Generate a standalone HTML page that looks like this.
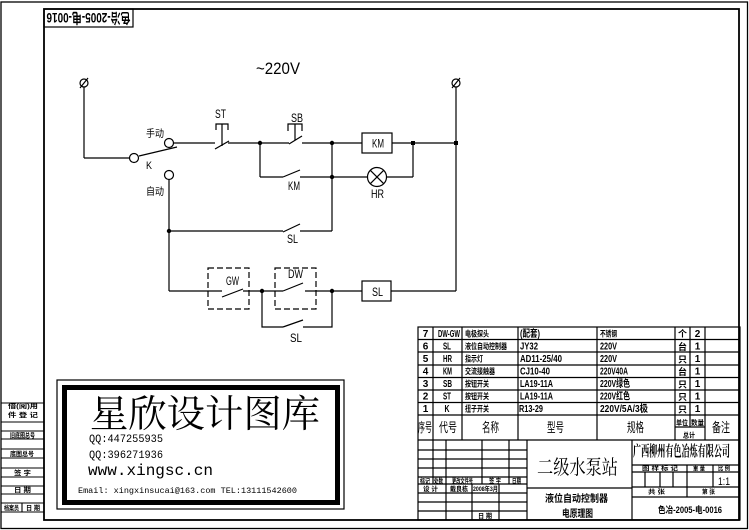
<!DOCTYPE html>
<html><head><meta charset="utf-8">
<style>
html,body{margin:0;padding:0;background:#fff;}
svg{display:block;}
text{font-family:"Liberation Sans","Noto Sans CJK SC",sans-serif;fill:#000;}
.s{font-family:"Noto Serif CJK SC","Liberation Serif",serif;}
.m{font-family:"Liberation Mono","Noto Sans CJK SC",monospace;}
.b{font-weight:bold;}
</style></head><body>
<svg width="749" height="530" viewBox="0 0 749 530" xmlns="http://www.w3.org/2000/svg">
<rect width="749" height="530" fill="#fff"/>
<!-- frames -->
<g fill="none" stroke="#000">
<rect x="1" y="2" width="746.5" height="526.5" stroke-width="1.3"/>
<rect x="44" y="9" width="695" height="511" stroke-width="1.8"/>
<rect x="44" y="9" width="89" height="18" stroke-width="1.2"/>
</g>
<text class="b" x="88.5" y="18" font-size="14" text-anchor="middle" dominant-baseline="central" textLength="84" lengthAdjust="spacingAndGlyphs" transform="rotate(180 88.5 18)">色冶-2005-电-0016</text>

<!-- left strip -->
<g stroke="#000" stroke-width="1.1">
<line x1="1" y1="403" x2="44" y2="403"/>
<line x1="1" y1="422" x2="44" y2="422"/>
<line x1="1" y1="431" x2="44" y2="431"/>
<line x1="1" y1="439" x2="44" y2="439"/>
<line x1="1" y1="449" x2="44" y2="449"/>
<line x1="1" y1="458" x2="44" y2="458"/>
<line x1="1" y1="468" x2="44" y2="468"/>
<line x1="1" y1="477" x2="44" y2="477"/>
<line x1="1" y1="486" x2="44" y2="486"/>
<line x1="1" y1="494" x2="44" y2="494"/>
<line x1="1" y1="503" x2="44" y2="503"/>
<line x1="1" y1="512" x2="44" y2="512"/>
<line x1="22" y1="503" x2="22" y2="512"/>
</g>
<g font-size="6.5" class="b">
<text x="8" y="408" textLength="30" lengthAdjust="spacingAndGlyphs">借(阅)用</text>
<text x="8" y="417" textLength="30" lengthAdjust="spacingAndGlyphs">件 登 记</text>
<text x="10" y="437.5" textLength="25" lengthAdjust="spacingAndGlyphs">旧底图总号</text>
<text x="10" y="456" textLength="24" lengthAdjust="spacingAndGlyphs">底图总号</text>
<text x="14" y="475" textLength="17" lengthAdjust="spacingAndGlyphs">签 字</text>
<text x="14" y="492" textLength="17" lengthAdjust="spacingAndGlyphs">日 期</text>
<text x="4" y="510" textLength="15" lengthAdjust="spacingAndGlyphs">档案员</text>
<text x="26" y="510" textLength="14" lengthAdjust="spacingAndGlyphs">日 期</text>
</g>

<!-- circuit -->
<g fill="none" stroke="#000" stroke-width="1.2">
<!-- terminals -->
<circle cx="84" cy="83" r="4"/><line x1="80" y1="88" x2="88" y2="78"/>
<circle cx="456" cy="83" r="4"/><line x1="452" y1="88" x2="460" y2="78"/>
<line x1="84" y1="87" x2="84" y2="158"/>
<line x1="84" y1="158" x2="129.5" y2="158"/>
<circle cx="134" cy="158" r="4.5"/>
<line x1="139" y1="156" x2="177" y2="147"/>
<circle cx="169" cy="143" r="4.5"/>
<circle cx="169" cy="175" r="4.5"/>
<!-- top branch -->
<line x1="173.5" y1="143" x2="215" y2="143"/>
<line x1="215" y1="149" x2="229" y2="141"/>
<line x1="228" y1="143" x2="289" y2="143"/>
<polyline points="216,130 216,124 228,124 228,130"/>
<line x1="222" y1="124" x2="222" y2="146"/>
<line x1="289" y1="144" x2="302" y2="136"/>
<polyline points="288,131 288,124 302,124 302,131"/>
<line x1="295" y1="124" x2="295" y2="140"/>
<line x1="302" y1="143" x2="362" y2="143"/>
<rect x="362" y="133" width="30" height="20"/>
<line x1="392" y1="143" x2="456" y2="143"/>
<!-- KM hold -->
<line x1="260" y1="143" x2="260" y2="177"/>
<line x1="260" y1="177" x2="283" y2="177"/>
<line x1="283" y1="177" x2="300" y2="170"/>
<line x1="300" y1="177" x2="367.5" y2="177"/>
<circle cx="377" cy="177" r="9.5"/>
<line x1="370.3" y1="170.3" x2="383.7" y2="183.7"/>
<line x1="383.7" y1="170.3" x2="370.3" y2="183.7"/>
<line x1="386.5" y1="177" x2="413" y2="177"/>
<line x1="413" y1="143" x2="413" y2="177"/>
<line x1="332" y1="143" x2="332" y2="231"/>
<!-- SL upper -->
<line x1="169" y1="179.5" x2="169" y2="291"/>
<line x1="169" y1="231" x2="283" y2="231"/>
<line x1="283" y1="232" x2="300" y2="224"/>
<line x1="300" y1="231" x2="332" y2="231"/>
<!-- right rail -->
<line x1="456" y1="87" x2="456" y2="291"/>
<!-- bottom branch -->
<line x1="169" y1="291" x2="222" y2="291"/>
<line x1="222" y1="297" x2="243" y2="289"/>
<line x1="243" y1="291" x2="283" y2="291"/>
<line x1="283" y1="291" x2="303" y2="283"/>
<line x1="305" y1="291" x2="362" y2="291"/>
<rect x="362" y="281" width="29" height="20"/>
<line x1="391" y1="291" x2="456" y2="291"/>
<polyline points="262,291 262,327 283,327"/>
<line x1="283" y1="327" x2="303" y2="320"/>
<polyline points="303,327 332,327 332,291"/>
<rect x="208" y="268" width="41" height="41" stroke-dasharray="6,3"/>
<rect x="275" y="268" width="41" height="41" stroke-dasharray="6,3"/>
</g>
<g fill="#000">
<circle cx="260" cy="143" r="2.2"/>
<circle cx="332" cy="143" r="2.2"/>
<circle cx="332" cy="177" r="2.2"/>
<rect x="411" y="141" width="4" height="4"/>
<rect x="454" y="141" width="4" height="4"/>
<circle cx="169" cy="231" r="2.2"/>
<circle cx="262" cy="291" r="2.2"/>
<circle cx="332" cy="291" r="2.2"/>
</g>
<!-- circuit labels -->
<g font-size="12">
<text x="256" y="74" font-size="17" textLength="44" lengthAdjust="spacingAndGlyphs">~220V</text>
<text x="215" y="118" textLength="11" lengthAdjust="spacingAndGlyphs">ST</text>
<text x="291" y="122" textLength="12" lengthAdjust="spacingAndGlyphs">SB</text>
<text x="146" y="137" font-size="10" textLength="18" lengthAdjust="spacingAndGlyphs">手动</text>
<text x="146" y="169" font-size="11" textLength="6" lengthAdjust="spacingAndGlyphs">K</text>
<text x="146" y="195" font-size="10" textLength="18" lengthAdjust="spacingAndGlyphs">自动</text>
<text x="288" y="190" textLength="12" lengthAdjust="spacingAndGlyphs">KM</text>
<text x="287" y="243" textLength="11" lengthAdjust="spacingAndGlyphs">SL</text>
<text x="372" y="147.5" textLength="12" lengthAdjust="spacingAndGlyphs">KM</text>
<text x="371" y="198" textLength="13" lengthAdjust="spacingAndGlyphs">HR</text>
<text x="226" y="285" textLength="13" lengthAdjust="spacingAndGlyphs">GW</text>
<text x="288" y="278" textLength="15" lengthAdjust="spacingAndGlyphs">DW</text>
<text x="372" y="296" textLength="11" lengthAdjust="spacingAndGlyphs">SL</text>
<text x="290" y="342" textLength="12" lengthAdjust="spacingAndGlyphs">SL</text>
</g>

<!-- parts table -->
<g fill="none" stroke="#000" stroke-width="1.2">
<rect x="418" y="327" width="322" height="193"/>
<line x1="418" y1="339.5" x2="740" y2="339.5"/>
<line x1="418" y1="352" x2="740" y2="352"/>
<line x1="418" y1="365" x2="740" y2="365"/>
<line x1="418" y1="377.5" x2="740" y2="377.5"/>
<line x1="418" y1="390" x2="740" y2="390"/>
<line x1="418" y1="402.5" x2="740" y2="402.5"/>
<line x1="418" y1="415" x2="740" y2="415"/>
<line x1="418" y1="440" x2="740" y2="440"/>
<line x1="433" y1="327" x2="433" y2="440"/>
<line x1="462" y1="327" x2="462" y2="440"/>
<line x1="518" y1="327" x2="518" y2="440"/>
<line x1="597" y1="327" x2="597" y2="440"/>
<line x1="675" y1="327" x2="675" y2="440"/>
<line x1="690" y1="327" x2="690" y2="427"/>
<line x1="705" y1="327" x2="705" y2="440"/>
<line x1="675" y1="427" x2="705" y2="427"/>
<!-- title block left grid -->
<line x1="418" y1="450" x2="527" y2="450"/>
<line x1="418" y1="459" x2="527" y2="459"/>
<line x1="418" y1="468" x2="527" y2="468"/>
<line x1="418" y1="477" x2="527" y2="477"/>
<line x1="418" y1="484" x2="527" y2="484"/>
<line x1="418" y1="493" x2="527" y2="493"/>
<line x1="418" y1="502" x2="527" y2="502"/>
<line x1="418" y1="511" x2="527" y2="511"/>
<line x1="433" y1="440" x2="433" y2="484"/>
<line x1="446" y1="440" x2="446" y2="520"/>
<line x1="482" y1="440" x2="482" y2="484"/>
<line x1="509" y1="440" x2="509" y2="484"/>
<line x1="472" y1="484" x2="472" y2="520"/>
<line x1="499" y1="484" x2="499" y2="520"/>
<line x1="527" y1="440" x2="527" y2="520"/>
<line x1="527" y1="488" x2="632" y2="488"/>
<line x1="632" y1="440" x2="632" y2="520"/>
<!-- right part -->
<line x1="632" y1="465" x2="740" y2="465"/>
<line x1="632" y1="472" x2="740" y2="472"/>
<line x1="632" y1="487" x2="740" y2="487"/>
<line x1="632" y1="497" x2="740" y2="497"/>
<line x1="645" y1="472" x2="645" y2="487"/>
<line x1="660" y1="472" x2="660" y2="487"/>
<line x1="673" y1="472" x2="673" y2="487"/>
<line x1="687" y1="465" x2="687" y2="497"/>
<line x1="713" y1="465" x2="713" y2="487"/>
</g>

<!-- table text -->
<g class="b" font-size="10">
<text x="425.5" y="337" text-anchor="middle">7</text>
<text x="438" y="337" textLength="22" lengthAdjust="spacingAndGlyphs">DW-GW</text>
<text x="465" y="336.5" font-size="8" textLength="24" lengthAdjust="spacingAndGlyphs">电极探头</text>
<text x="520" y="337" textLength="20" lengthAdjust="spacingAndGlyphs">(配套)</text>
<text x="600" y="336.5" font-size="8" textLength="17" lengthAdjust="spacingAndGlyphs">不锈钢</text>
<text x="682.5" y="337" font-size="9" text-anchor="middle">个</text>
<text x="697.5" y="337" text-anchor="middle">2</text>

<text x="425.5" y="349.5" text-anchor="middle">6</text>
<text x="443" y="349.5" textLength="8" lengthAdjust="spacingAndGlyphs">SL</text>
<text x="465" y="349" font-size="8" textLength="42" lengthAdjust="spacingAndGlyphs">液位自动控制器</text>
<text x="520" y="349.5" textLength="18" lengthAdjust="spacingAndGlyphs">JY32</text>
<text x="600" y="349.5" textLength="17" lengthAdjust="spacingAndGlyphs">220V</text>
<text x="682.5" y="350" font-size="9" text-anchor="middle">台</text>
<text x="697.5" y="349.5" text-anchor="middle">1</text>

<text x="425.5" y="362" text-anchor="middle">5</text>
<text x="443" y="362" textLength="9" lengthAdjust="spacingAndGlyphs">HR</text>
<text x="465" y="361.5" font-size="8" textLength="18" lengthAdjust="spacingAndGlyphs">指示灯</text>
<text x="520" y="362" textLength="42" lengthAdjust="spacingAndGlyphs">AD11-25/40</text>
<text x="600" y="362" textLength="17" lengthAdjust="spacingAndGlyphs">220V</text>
<text x="682.5" y="362.5" font-size="9" text-anchor="middle">只</text>
<text x="697.5" y="362" text-anchor="middle">1</text>

<text x="425.5" y="374.5" text-anchor="middle">4</text>
<text x="443" y="374.5" textLength="9" lengthAdjust="spacingAndGlyphs">KM</text>
<text x="465" y="374" font-size="8" textLength="30" lengthAdjust="spacingAndGlyphs">交流接触器</text>
<text x="520" y="374.5" textLength="30" lengthAdjust="spacingAndGlyphs">CJ10-40</text>
<text x="600" y="374.5" textLength="28" lengthAdjust="spacingAndGlyphs">220V40A</text>
<text x="682.5" y="375" font-size="9" text-anchor="middle">台</text>
<text x="697.5" y="374.5" text-anchor="middle">1</text>

<text x="425.5" y="387" text-anchor="middle">3</text>
<text x="443" y="387" textLength="9" lengthAdjust="spacingAndGlyphs">SB</text>
<text x="465" y="386.5" font-size="8" textLength="24" lengthAdjust="spacingAndGlyphs">按钮开关</text>
<text x="520" y="387" textLength="33" lengthAdjust="spacingAndGlyphs">LA19-11A</text>
<text x="600" y="387" textLength="30" lengthAdjust="spacingAndGlyphs">220V绿色</text>
<text x="682.5" y="387.5" font-size="9" text-anchor="middle">只</text>
<text x="697.5" y="387" text-anchor="middle">1</text>

<text x="425.5" y="399.5" text-anchor="middle">2</text>
<text x="443" y="399.5" textLength="8" lengthAdjust="spacingAndGlyphs">ST</text>
<text x="465" y="399" font-size="8" textLength="24" lengthAdjust="spacingAndGlyphs">按钮开关</text>
<text x="520" y="399.5" textLength="33" lengthAdjust="spacingAndGlyphs">LA19-11A</text>
<text x="600" y="399.5" textLength="30" lengthAdjust="spacingAndGlyphs">220V红色</text>
<text x="682.5" y="400" font-size="9" text-anchor="middle">只</text>
<text x="697.5" y="399.5" text-anchor="middle">1</text>

<text x="425.5" y="412" text-anchor="middle">1</text>
<text x="444.5" y="412" textLength="5" lengthAdjust="spacingAndGlyphs">K</text>
<text x="465" y="411.5" font-size="8" textLength="24" lengthAdjust="spacingAndGlyphs">扭子开关</text>
<text x="519" y="412" textLength="24" lengthAdjust="spacingAndGlyphs">R13-29</text>
<text x="600" y="412" textLength="48" lengthAdjust="spacingAndGlyphs">220V/5A/3极</text>
<text x="682.5" y="412.5" font-size="9" text-anchor="middle">只</text>
<text x="697.5" y="412" text-anchor="middle">1</text>
</g>

<!-- header -->
<g class="s" font-size="13">
<text x="418" y="432" textLength="14" lengthAdjust="spacingAndGlyphs">序号</text>
<text x="439" y="432" textLength="18" lengthAdjust="spacingAndGlyphs">代号</text>
<text x="482" y="432" textLength="17" lengthAdjust="spacingAndGlyphs">名称</text>
<text x="547" y="432" textLength="17" lengthAdjust="spacingAndGlyphs">型号</text>
<text x="627" y="432" textLength="17" lengthAdjust="spacingAndGlyphs">规格</text>
<text x="712" y="432" textLength="18" lengthAdjust="spacingAndGlyphs">备注</text>
</g>
<g class="b" font-size="7">
<text x="676" y="425" textLength="12" lengthAdjust="spacingAndGlyphs">单位</text>
<text x="691" y="425" textLength="13" lengthAdjust="spacingAndGlyphs">数量</text>
<text x="683" y="437.5" textLength="12" lengthAdjust="spacingAndGlyphs">总计</text>
</g>

<!-- title block texts -->
<g class="b" font-size="6.5">
<text x="420" y="483" textLength="10" lengthAdjust="spacingAndGlyphs">标记</text>
<text x="434" y="483" textLength="9" lengthAdjust="spacingAndGlyphs">处数</text>
<text x="452" y="483" textLength="21" lengthAdjust="spacingAndGlyphs">更改文件号</text>
<text x="489" y="483" textLength="12" lengthAdjust="spacingAndGlyphs">签 字</text>
<text x="512" y="483" textLength="9" lengthAdjust="spacingAndGlyphs">日期</text>
<text x="423" y="491" textLength="15" lengthAdjust="spacingAndGlyphs">设 计</text>
<text x="450" y="491" textLength="18" lengthAdjust="spacingAndGlyphs">戴良栋</text>
<text x="473" y="491" textLength="25" lengthAdjust="spacingAndGlyphs">2008年3月</text>
<text x="478" y="518" textLength="14" lengthAdjust="spacingAndGlyphs">日 期</text>
<text x="642" y="470.5" font-size="6" textLength="36" lengthAdjust="spacingAndGlyphs">图 样 标 记</text>
<text x="693" y="470.5" font-size="6" textLength="12" lengthAdjust="spacingAndGlyphs">重 量</text>
<text x="718" y="470.5" font-size="6" textLength="12" lengthAdjust="spacingAndGlyphs">比 例</text>
<text x="648" y="494" font-size="6" textLength="17" lengthAdjust="spacingAndGlyphs">共 张</text>
<text x="702" y="494" font-size="6" textLength="13" lengthAdjust="spacingAndGlyphs">第 张</text>
</g>
<text class="s" x="537" y="474" font-size="20" textLength="81" lengthAdjust="spacingAndGlyphs">二级水泵站</text>
<text class="s b" x="633" y="456" font-size="15" textLength="97" lengthAdjust="spacingAndGlyphs">广西柳州有色冶炼有限公司</text>
<text class="b" x="545" y="502" font-size="10" textLength="63" lengthAdjust="spacingAndGlyphs">液位自动控制器</text>
<text class="b" x="562" y="517" font-size="10" textLength="31" lengthAdjust="spacingAndGlyphs">电原理图</text>
<text x="718" y="485" font-size="11" textLength="12" lengthAdjust="spacingAndGlyphs">1:1</text>
<text class="b" x="658" y="513" font-size="9" textLength="64" lengthAdjust="spacingAndGlyphs">色冶-2005-电-0016</text>

<!-- watermark box -->
<rect x="57" y="380" width="287" height="129" fill="#fff" stroke="#000" stroke-width="1.2"/>
<rect x="64.5" y="387.5" width="273" height="115" fill="#fff" stroke="#000" stroke-width="5"/>
<text class="s" x="90" y="427" font-size="38" textLength="230" lengthAdjust="spacingAndGlyphs">星欣设计图库</text>
<text class="m" x="89" y="442" font-size="11" textLength="74" lengthAdjust="spacingAndGlyphs">QQ:447255935</text>
<text class="m" x="89" y="458" font-size="11" textLength="74" lengthAdjust="spacingAndGlyphs">QQ:396271936</text>
<text class="m" x="88" y="475" font-size="16" textLength="125" lengthAdjust="spacingAndGlyphs">www.xingsc.cn</text>
<text class="m" x="78" y="493" font-size="8.5" textLength="219" lengthAdjust="spacingAndGlyphs">Email: xingxinsucai@163.com  TEL:13111542600</text>
</svg>
</body></html>
